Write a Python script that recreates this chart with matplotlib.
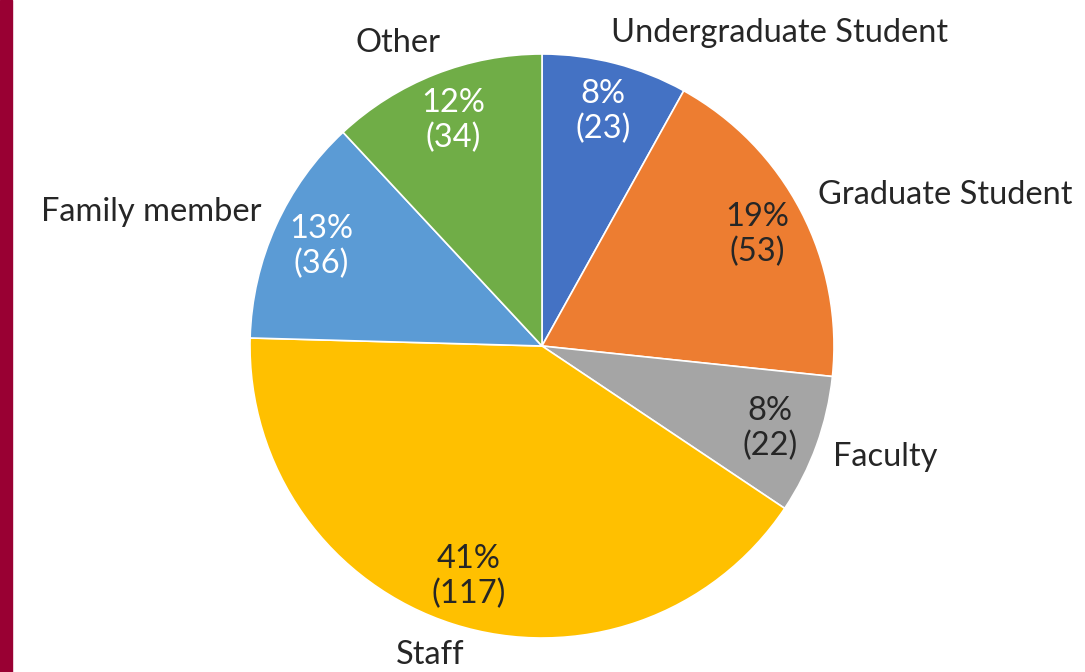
import numpy as np
import matplotlib.pyplot as plt
from matplotlib.patches import Rectangle

# data
categories = ['Undergraduate Student', 'Graduate Student', 'Faculty', 'Staff', 'Family member', 'Other']
counts = [23, 53, 22, 117, 36, 34]
percents = [8, 19, 8, 41, 13, 12]
colors = ['#4472C4', '#ED7D31', '#A5A5A5', '#FFC000', '#5B9BD5', '#70AD47']
pct_colors = ['white', '#262626', '#262626', '#262626', 'white', 'white']

# label placement (data units, pie radius = 1)
label_pos = [(0.815, 1.072), (1.38, 0.517), (0.997, -0.38), (-0.384, -1.058), (-0.959, 0.459), (-0.493, 1.038)]
label_ha = ['center', 'center', 'left', 'center', 'right', 'center']

plt.rcParams['font.family'] = ['Lato', 'DejaVu Sans']

fig = plt.figure(figsize=(10.85, 6.72), dpi=100)
fig.patches.append(Rectangle((0, 0), 12 / 1085, 1, transform=fig.transFigure,
                             color='#990033', zorder=0))

ax = fig.add_axes([250 / 1085, 34 / 672, 584 / 1085, 584 / 672])
wedges, texts = ax.pie(counts, colors=colors, startangle=90, counterclock=False,
                       radius=1, wedgeprops=dict(edgecolor='white', linewidth=1.2))

for i, (w, c, p) in enumerate(zip(wedges, counts, percents)):
    mid = np.deg2rad((w.theta1 + w.theta2) / 2)
    ax.text(0.83 * np.cos(mid), 0.83 * np.sin(mid), f'{p}%\n({c})',
            ha='center', va='center', fontsize=23.5, color=pct_colors[i], linespacing=1.2)
    x, y = label_pos[i]
    ax.text(x, y, categories[i], ha=label_ha[i], va='center', fontsize=23.5, color='#262626')

ax.set_xlim(-1, 1)
ax.set_ylim(-1, 1)
ax.set_aspect('equal')
ax.axis('off')

fig.savefig('out.png', dpi=100)
